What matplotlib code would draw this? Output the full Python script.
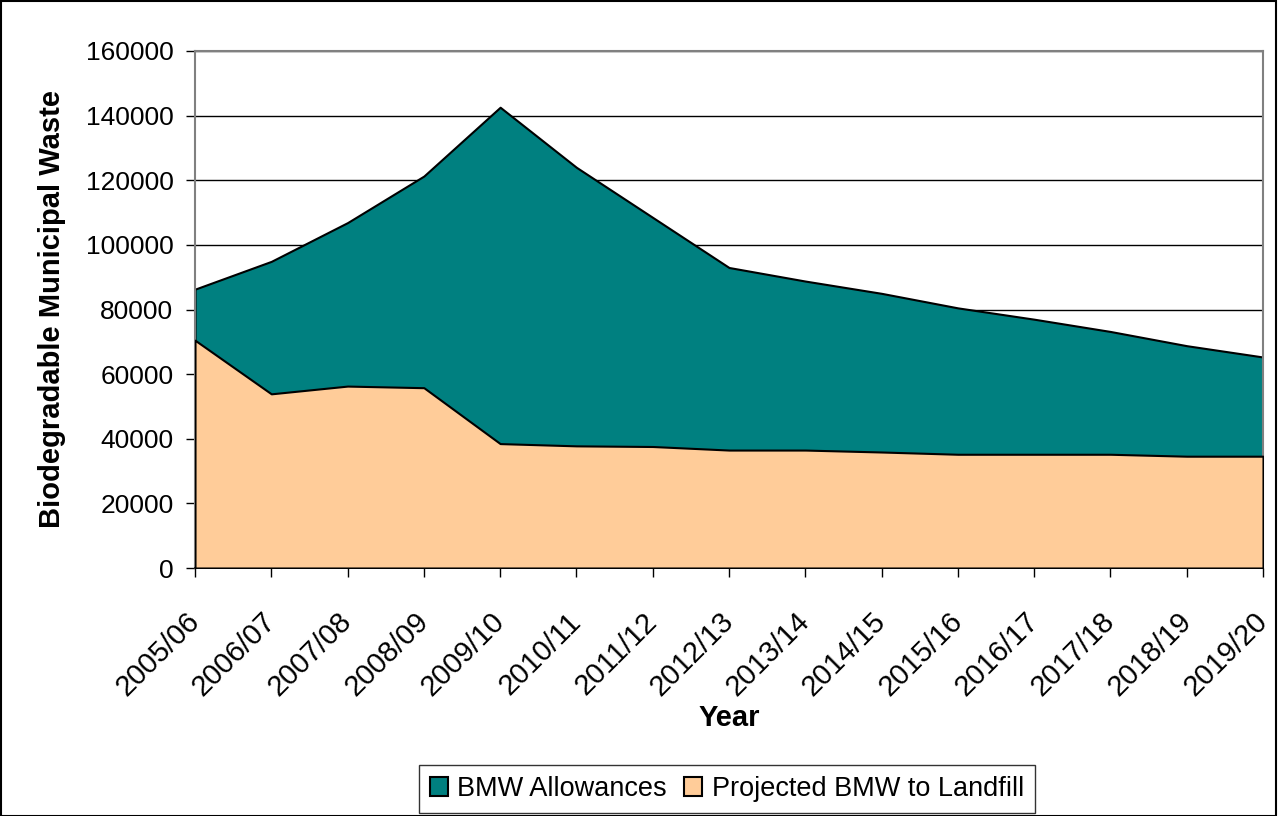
import matplotlib.pyplot as plt
from matplotlib.patches import Rectangle

plt.rcParams["font.family"] = ["Liberation Sans", "DejaVu Sans"]

YEARS = ["2005/06", "2006/07", "2007/08", "2008/09", "2009/10", "2010/11", "2011/12",
         "2012/13", "2013/14", "2014/15", "2015/16", "2016/17", "2017/18", "2018/19", "2019/20"]
ALLOWANCES = [86300, 94900, 106900, 121300, 142600, 124000, 108500,
              93000, 88800, 85000, 80500, 77000, 73200, 68800, 65300]
LANDFILL = [70500, 53900, 56300, 55800, 38500, 37800, 37600,
            36500, 36500, 35900, 35200, 35200, 35200, 34600, 34600]

TEAL, PEACH = "#008080", "#FFCC99"

fig = plt.figure(figsize=(12.78, 8.16), dpi=100)
ax = fig.add_axes([195 / 1278, 1 - 568 / 816, (1263 - 195) / 1278, (568 - 51) / 816])

x = list(range(len(YEARS)))
ax.fill_between(x, 0, ALLOWANCES, facecolor=TEAL, edgecolor="black", lw=1.5,
                label="BMW Allowances", zorder=2)
ax.fill_between(x, 0, LANDFILL, facecolor=PEACH, edgecolor="black", lw=1.5,
                label="Projected BMW to Landfill", zorder=3)

ax.set_xlim(0, len(YEARS) - 1)
ax.set_ylim(0, 160000)
ax.set_yticks(range(0, 160001, 20000))
ax.tick_params(axis="y", labelsize=19, length=6.5, direction="out", width=1, pad=9)
ax.set_xticks(x)
ax.set_xticklabels(YEARS, rotation=45, ha="right", va="center", rotation_mode="anchor",
                   fontsize=21)
ax.tick_params(axis="x", length=6.5, direction="out", width=1, pad=29)
ax.yaxis.grid(True, color="black", lw=1)
ax.set_axisbelow(True)
for s in ["top", "right", "left"]:
    ax.spines[s].set_color("#808080")
    ax.spines[s].set_linewidth(1.5)
ax.spines["bottom"].set_linewidth(1.2)

ax.set_ylabel("Biodegradable Municipal Waste", fontsize=21, fontweight="bold", labelpad=14)
ax.set_xlabel("Year", fontsize=21, fontweight="bold")
ax.xaxis.set_label_coords(0.5, (568 - 704) / 517)

leg = fig.legend(loc="center", bbox_to_anchor=(727 / 1278, 1 - 789 / 816), ncol=2, fontsize=19.5,
                 frameon=True, fancybox=False, edgecolor="black", handlelength=0.65,
                 handleheight=0.65, handletextpad=0.35, columnspacing=0.65, borderpad=0.4,
                 borderaxespad=0)
leg.get_frame().set_linewidth(1)

fig.patches.append(Rectangle((0.0005, 0.0005), 0.998, 0.998, transform=fig.transFigure,
                             fill=False, edgecolor="black", lw=1.5))

fig.savefig("out.png", dpi=100)
